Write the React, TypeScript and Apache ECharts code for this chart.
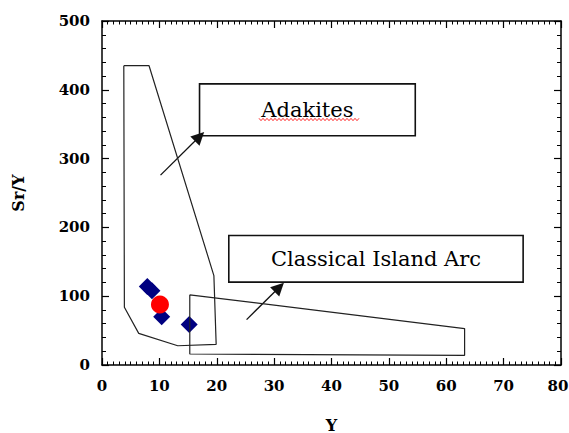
import React, { useEffect, useRef } from "react";
import * as echarts from "echarts";

// Field outlines (Y, Sr/Y)
const adakiteField: [number, number][] = [
  [3.8, 435], [8.2, 435], [19.5, 130], [19.9, 30], [13.2, 28], [6.4, 46], [3.9, 84], [3.8, 435],
];
const islandArcField: [number, number][] = [
  [15.3, 102], [63.2, 53], [63.2, 14], [15.3, 16], [15.3, 102],
];
// Samples
const diamondSamples: [number, number][] = [
  [7.9, 114], [8.7, 108], [10.4, 70], [15.2, 59],
];
const circleSamples: [number, number][] = [[10.1, 88]];
// Arrows
const adakiteArrow: [number, number][] = [[10.2, 276], [17.0, 332]];
const arcArrow: [number, number][] = [[25.2, 66], [30.9, 113]];
// Label boxes [corner1, corner2]
const adakiteBox: [number, number][] = [[17.0, 408.6], [54.6, 333.3]];
const arcBox: [number, number][] = [[22.1, 188.2], [73.4, 120.4]];
const boxLabels = ["Adakites", "Classical Island Arc"];

const serif = "DejaVu Serif";

export default function App() {
  const ref = useRef<HTMLDivElement>(null);
  useEffect(() => {
    document.body.style.margin = "0";
    const chart = echarts.init(ref.current!, null, { renderer: "svg" });
    const line = { color: "#000", width: 1.5 };
    const tick = {
      show: true,
      inside: true,
      length: 7,
      lineStyle: { color: "#000", width: 1.2 },
    };
    const labelStyle = {
      fontFamily: serif,
      fontWeight: "bold" as const,
      fontSize: 15,
      color: "#000",
    };
    const xBase = {
      type: "value" as const,
      min: 0,
      max: 80,
      interval: 10,
      axisLine: { show: true, onZero: false, lineStyle: line },
      axisTick: tick,
      minorTick: { show: true, splitNumber: 10, length: 3.5, lineStyle: { color: "#000", width: 1 } },
      splitLine: { show: false },
    };
    const yBase = {
      type: "value" as const,
      min: 0,
      max: 500,
      interval: 100,
      axisLine: { show: true, onZero: false, lineStyle: line },
      axisTick: tick,
      minorTick: { show: true, splitNumber: 5, length: 4, lineStyle: { color: "#000", width: 1 } },
      splitLine: { show: false },
    };
    const squiggle: number[][] = [];
    for (let i = 0; i <= 50; i++) squiggle.push([259 + i * 2, i % 2 === 0 ? 118.3 : 120.7]);

    chart.setOption({
      animation: false,
      grid: { left: 102, right: 8, top: 21, bottom: 68, containLabel: false, outerBoundsMode: "none" },
      xAxis: [
        {
          ...xBase,
          position: "bottom",
          axisLabel: {
            ...labelStyle,
            margin: 13,
            formatter: (v: number) => (v === 80 ? "{m|" + v + "}" : String(v)),
            rich: { m: { ...labelStyle, padding: [0, 6, 0, 0] } },
          },
          name: "Y",
          nameLocation: "middle",
          nameGap: 52,
          nameTextStyle: { ...labelStyle, fontSize: 16 },
        },
        { ...xBase, position: "top", axisLabel: { show: false } },
      ],
      yAxis: [
        {
          ...yBase,
          position: "left",
          axisLabel: { ...labelStyle, margin: 12 },
          name: "Sr/Y",
          nameLocation: "middle",
          nameGap: 76,
          nameRotate: 90,
          nameTextStyle: { ...labelStyle, fontSize: 16 },
        },
        { ...yBase, position: "right", axisLabel: { show: false } },
      ],
      series: [
        {
          type: "line",
          data: adakiteField,
          symbol: "none",
          silent: true,
          lineStyle: { color: "#222", width: 1.2 },
          markArea: {
            silent: true,
            itemStyle: { color: "rgba(255,255,255,0)", borderColor: "#111", borderWidth: 1.6 },
            label: {
              show: true,
              position: "inside",
              fontFamily: serif,
              fontSize: 21,
              color: "#000",
            },
            data: [
              [
                { name: boxLabels[0], coord: adakiteBox[0] },
                { coord: adakiteBox[1] },
              ],
              [
                { name: boxLabels[1], coord: arcBox[0] },
                { coord: arcBox[1] },
              ],
            ],
          },
        },
        {
          type: "line",
          data: islandArcField,
          symbol: "none",
          silent: true,
          lineStyle: { color: "#222", width: 1.2 },
        },
        {
          type: "lines",
          coordinateSystem: "cartesian2d",
          silent: true,
          symbol: ["none", "triangle"],
          symbolSize: [11, 13],
          lineStyle: { color: "#111", width: 1.3, opacity: 1 },
          data: [{ coords: adakiteArrow }, { coords: arcArrow }],
        },
        {
          type: "scatter",
          data: diamondSamples,
          symbol: "diamond",
          symbolSize: 17,
          itemStyle: { color: "#000080", opacity: 1 },
          silent: true,
        },
        {
          type: "scatter",
          data: circleSamples,
          symbol: "circle",
          symbolSize: 18,
          itemStyle: { color: "#ff0000", opacity: 1 },
          silent: true,
        },
      ],
      graphic: [
        {
          type: "polyline",
          silent: true,
          shape: { points: squiggle },
          style: { stroke: "#ff3030", lineWidth: 1, fill: null },
        },
      ],
    });
    return () => chart.dispose();
  }, []);
  return <div ref={ref} style={{ width: 569, height: 433 }} />;
}
